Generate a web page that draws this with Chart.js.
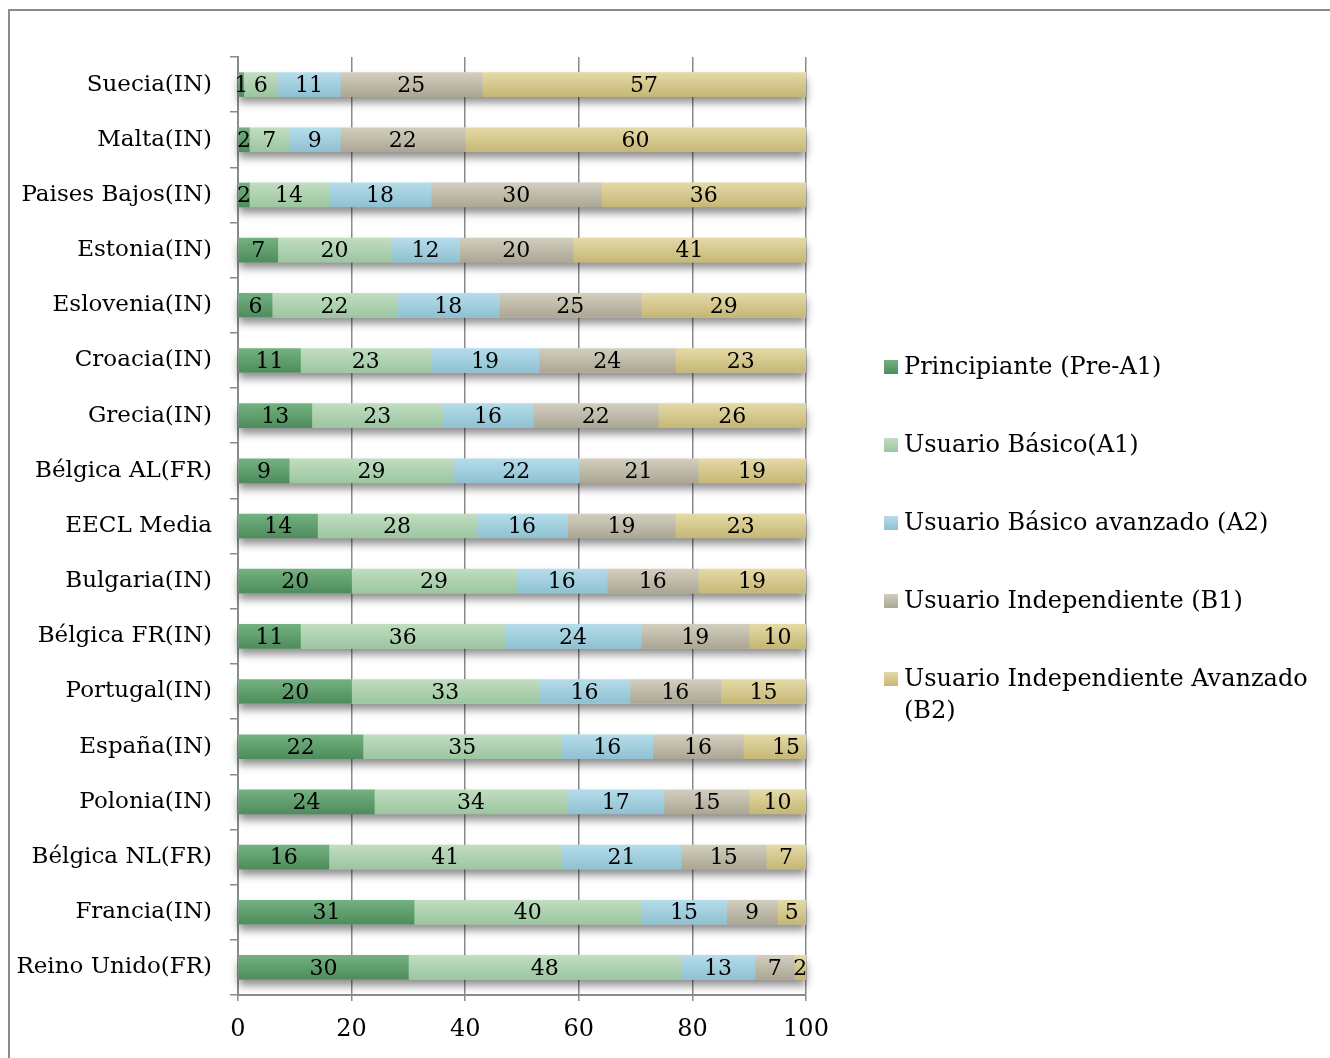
<!DOCTYPE html>
<html>
<head>
<meta charset="utf-8">
<script src="https://cdn.jsdelivr.net/npm/chart.js@4/dist/chart.umd.min.js"></script>
<style>
  body { margin: 0; background: #fff; }
  #wrap { position: relative; width: 1330px; height: 1058px; overflow: hidden; }
  #frame { position: absolute; left: 8px; top: 9px; width: 1340px; height: 1070px;
           border-top: 2px solid #8c8c8c; border-left: 2px solid #8c8c8c; pointer-events: none; }
</style>
</head>
<body>
<div id="wrap">
  <canvas id="chart" width="1330" height="1058"></canvas>
  <div id="frame"></div>
</div>
<script>
const categories = ["Suecia(IN)", "Malta(IN)", "Paises Bajos(IN)", "Estonia(IN)", "Eslovenia(IN)",
  "Croacia(IN)", "Grecia(IN)", "Bélgica AL(FR)", "EECL Media", "Bulgaria(IN)", "Bélgica FR(IN)",
  "Portugal(IN)", "España(IN)", "Polonia(IN)", "Bélgica NL(FR)", "Francia(IN)", "Reino Unido(FR)"];

const seriesNames = ["Principiante (Pre-A1)", "Usuario Básico(A1)", "Usuario Básico avanzado (A2)",
  "Usuario Independiente (B1)", "Usuario Independiente Avanzado (B2)"];

const preA1 = [1, 2, 2, 7, 6, 11, 13, 9, 14, 20, 11, 20, 22, 24, 16, 31, 30];
const a1    = [6, 7, 14, 20, 22, 23, 23, 29, 28, 29, 36, 33, 35, 34, 41, 40, 48];
const a2    = [11, 9, 18, 12, 18, 19, 16, 22, 16, 16, 24, 16, 16, 17, 21, 15, 13];
const b1    = [25, 22, 30, 20, 25, 24, 22, 21, 19, 16, 19, 16, 16, 15, 15, 9, 7];
const b2    = [57, 60, 36, 41, 29, 23, 26, 19, 23, 19, 10, 15, 15, 10, 7, 5, 2];

const xTicks = [0, 20, 40, 60, 80, 100];

// top / bottom colour of each series' gradient
const colors = [
  ["#73b180", "#4e8c5c"],
  ["#c0ddc0", "#9cc6a0"],
  ["#b5dcea", "#8fc1d2"],
  ["#d2cebf", "#aca793"],
  ["#e4daa6", "#c6b776"]
];

const FONT = "'DejaVu Serif', serif";
const BAR = 24;

function barFill(c) {
  return (ctx) => {
    const chart = ctx.chart;
    if (!chart.chartArea || ctx.type !== "data") return c[0];
    const cy = chart.scales.y.getPixelForValue(ctx.dataIndex);
    const g = chart.ctx.createLinearGradient(0, cy - BAR / 2, 0, cy + BAR / 2);
    g.addColorStop(0, c[0]);
    g.addColorStop(1, c[1]);
    return g;
  };
}

const seriesData = [preA1, a1, a2, b1, b2];

const datasets = seriesData.map((d, i) => ({
  label: seriesNames[i],
  data: d,
  backgroundColor: barFill(colors[i]),
  borderWidth: 0,
  barThickness: BAR
}));

// soft shadow under each stacked row
const rowShadow = {
  id: "rowShadow",
  beforeDatasetsDraw(chart) {
    const ctx = chart.ctx;
    const area = chart.chartArea;
    const metas = chart.data.datasets.map((_, i) => chart.getDatasetMeta(i));
    ctx.save();
    ctx.shadowColor = "rgba(0,0,0,0.45)";
    ctx.shadowBlur = 8;
    ctx.shadowOffsetY = 6;
    ctx.fillStyle = "#ffffff";
    categories.forEach((_, j) => {
      const first = metas[0].data[j].getProps(["base", "y"], true);
      const last = metas[metas.length - 1].data[j].getProps(["x"], true);
      const right = Math.min(last.x, area.right);
      ctx.fillRect(first.base, first.y - BAR / 2, right - first.base, BAR);
    });
    ctx.restore();
  }
};

// value labels at the centre of every segment
const valueLabels = {
  id: "valueLabels",
  afterDatasetsDraw(chart) {
    const ctx = chart.ctx;
    ctx.save();
    ctx.font = "22px " + FONT;
    ctx.fillStyle = "#000";
    ctx.textAlign = "center";
    ctx.textBaseline = "middle";
    chart.data.datasets.forEach((ds, i) => {
      chart.getDatasetMeta(i).data.forEach((el, j) => {
        const p = el.getProps(["x", "base", "y"], true);
        ctx.fillText(String(ds.data[j]), (p.x + p.base) / 2, p.y + 1.5);
      });
    });
    ctx.restore();
  }
};

// legend on the right, wrapping long names
const sideLegend = {
  id: "sideLegend",
  afterDraw(chart) {
    const ctx = chart.ctx;
    const boxX = 884, textX = 904, maxW = 1324 - textX;
    let y = 367;
    ctx.save();
    ctx.font = "24px " + FONT;
    ctx.textBaseline = "middle";
    ctx.textAlign = "left";
    chart.data.datasets.forEach((ds, i) => {
      const g = ctx.createLinearGradient(0, y - 7, 0, y + 7);
      g.addColorStop(0, colors[i][0]);
      g.addColorStop(1, colors[i][1]);
      ctx.fillStyle = g;
      ctx.fillRect(boxX, y - 7, 14, 14);
      ctx.fillStyle = "#000";
      const words = ds.label.split(" ");
      let line = "";
      let ly = y + 1;
      words.forEach((w) => {
        const test = line ? line + " " + w : w;
        if (ctx.measureText(test).width > maxW && line) {
          ctx.fillText(line, textX, ly);
          line = w;
          ly += 32;
        } else {
          line = test;
        }
      });
      ctx.fillText(line, textX, ly);
      y += 78;
    });
    ctx.restore();
  }
};

new Chart(document.getElementById("chart"), {
  type: "bar",
  data: { labels: categories, datasets: datasets },
  plugins: [rowShadow, valueLabels, sideLegend],
  options: {
    indexAxis: "y",
    responsive: false,
    animation: false,
    layout: { padding: { top: 57, right: 524, bottom: 0, left: 0 } },
    plugins: { legend: { display: false }, tooltip: { enabled: false } },
    scales: {
      x: {
        stacked: true,
        min: 0,
        max: 100,
        afterBuildTicks: (scale) => { scale.ticks = xTicks.map((v) => ({ value: v })); },
        afterFit: (scale) => { scale.height = 63; },
        grid: { color: "#8a8a8a", lineWidth: 1.5, tickLength: 6 },
        border: { color: "#8a8a8a", width: 2 },
        ticks: { color: "#000", padding: 14, font: { family: FONT, size: 24 } }
      },
      y: {
        stacked: true,
        afterFit: (scale) => { scale.width = 238; },
        grid: { drawOnChartArea: false, offset: true, color: "#8a8a8a", lineWidth: 1.5, tickLength: 8 },
        border: { color: "#8a8a8a", width: 2 },
        ticks: { color: "#000", padding: 18, font: { family: FONT, size: 23 } }
      }
    }
  }
});
</script>
</body>
</html>
